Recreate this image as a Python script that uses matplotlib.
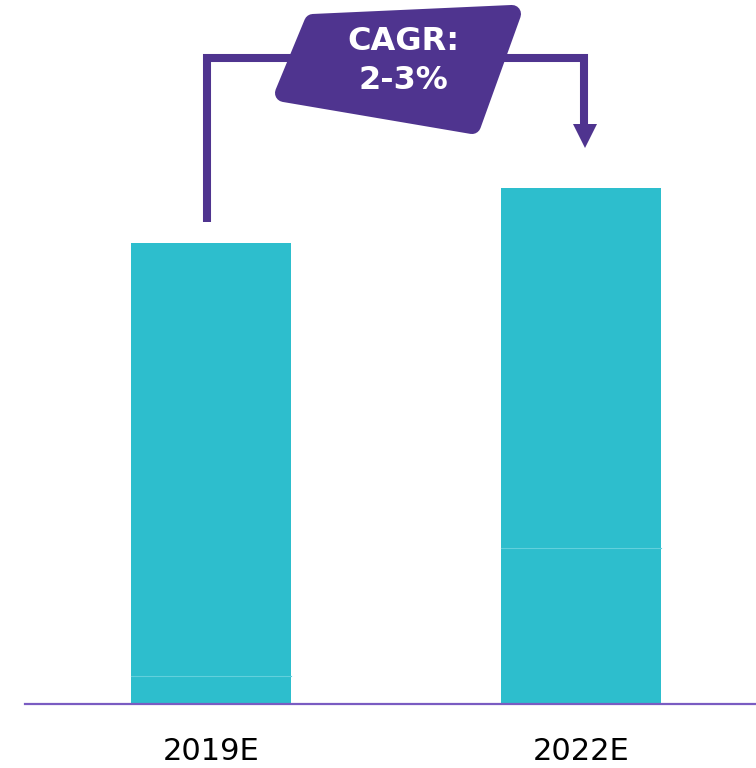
import matplotlib.pyplot as plt
from matplotlib.patches import Polygon

years = ['2019E', '2022E']
base_part = [0.28, 1.56]
top_part = [4.33, 3.60]
cagr_text = 'CAGR:\n2-3%'

bar_color = '#2dbecd'
purple = '#4f348f'

fig = plt.figure(figsize=(7.56, 7.68), dpi=100)

# main axes: baseline sits at y=704px, 100 px per unit
ax = fig.add_axes([25 / 756, 64 / 768, 731 / 756, 704 / 768])
ax.set_xlim((25 - 211) / 370, (756 - 211) / 370)
ax.set_ylim(0, 7.04)
x = range(len(years))
bw = 160 / 370
ax.bar(x, [b + t for b, t in zip(base_part, top_part)], width=bw, color=bar_color, linewidth=0)
# faint split lines between segments
for i in x:
    ax.plot([i - bw / 2, i + bw / 2], [base_part[i], base_part[i]], color='#62d0dc', lw=0.8)
ax.axhline(0, color='#7a5cc2', lw=1.6, zorder=5, clip_on=False)
ax.axis('off')
for i, lab in enumerate(years):
    ax.text(i, -0.47, lab, ha='center', va='center', fontsize=22, color='black', clip_on=False)

# overlay in pixel coords for the CAGR bracket
ov = fig.add_axes([0, 0, 1, 1])
ov.set_xlim(0, 756)
ov.set_ylim(768, 0)
ov.axis('off')
ov.plot([207, 207, 584, 584], [222, 58, 58, 125], color=purple, lw=5.8,
        solid_joinstyle='miter', solid_capstyle='butt')
ov.add_patch(Polygon([[573, 124], [597, 124], [585, 148]], closed=True, color=purple, lw=0))
ov.add_patch(Polygon([[313, 23], [512, 14], [472, 125], [284, 93]], closed=True,
                     facecolor=purple, edgecolor=purple, lw=13, joinstyle='round', zorder=3))
ov.text(403, 61, cagr_text, ha='center', va='center', fontsize=23, fontweight='bold',
        color='white', linespacing=1.3, zorder=4)

fig.savefig('out.png', dpi=100)
